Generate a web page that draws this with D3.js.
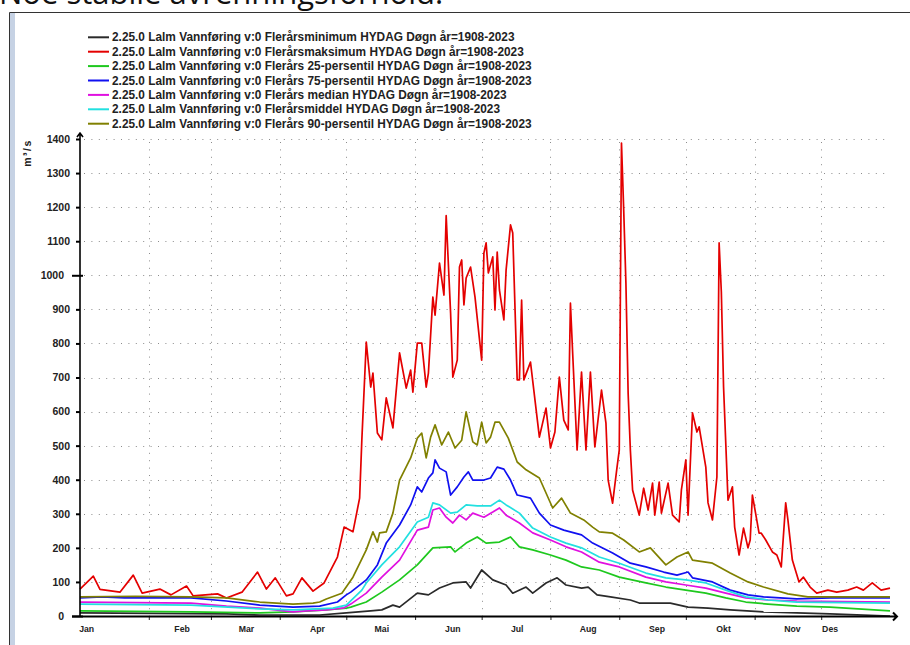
<!DOCTYPE html>
<html>
<head>
<meta charset="utf-8">
<script src="https://cdn.jsdelivr.net/npm/d3@7"></script>
<style>
    body { margin: 0; background: #fff; overflow: hidden; }
    svg text { font-family: "Liberation Sans", Arial, sans-serif; }
    .caption { font-family: "Open Sans", "Noto Sans", sans-serif; }
</style>
</head>
<body>
<div id="chart"></div>
<script>

// day-of-year, m3/s
const minFlow = [[0,9],[66,6],[81,3],[108,3],[120,9],[131,15],[136,18],[141,32],[144,26],[152,67],[157,62],[162,82],[168,97],[174,100],[176,82],[181,135],[186,106],[192,91],[195,67],[201,85],[204,67],[210,97],[215,112],[219,91],[226,82],[229,85],[233,62],[239,56],[248,47],[252,38],[266,38],[274,26],[283,23],[293,18],[308,12],[323,9],[338,6],[365,0]];

const maxFlow = [[0,79],[6,117],[9,78],[18,70],[24,120],[28,67],[36,79],[41,62],[48,88],[51,59],[62,65],[66,53],[73,70],[80,129],[84,79],[88,112],[93,59],[96,65],[100,112],[105,73],[110,97],[116,173],[119,261],[123,247],[126,346],[127,517],[129,804],[131,672],[132,713],[134,537],[136,517],[138,640],[141,552],[144,772],[147,669],[149,722],[150,657],[152,801],[154,801],[156,672],[157,713],[159,936],[160,883],[162,1036],[164,942],[165,1175],[167,889],[168,701],[170,751],[171,1024],[172,1045],[173,913],[174,992],[176,1024],[178,936],[181,751],[182,1065],[183,1095],[184,1007],[186,1054],[187,898],[188,1068],[189,957],[191,869],[192,1015],[194,1148],[195,1124],[197,693],[198,693],[199,927],[200,693],[203,745],[207,525],[210,610],[212,493],[214,540],[216,701],[218,575],[220,546],[221,918],[222,772],[224,487],[226,716],[228,487],[230,716],[232,496],[235,663],[237,566],[238,399],[240,331],[242,437],[243,487],[244,1388],[245,1192],[246,977],[247,654],[248,487],[249,370],[252,296],[254,375],[256,311],[258,390],[259,296],[261,393],[262,302],[265,390],[267,296],[270,276],[271,370],[273,458],[274,296],[276,596],[278,540],[279,555],[282,437],[283,332],[285,282],[287,408],[288,1095],[289,951],[290,672],[292,340],[294,379],[295,261],[297,179],[299,258],[301,200],[302,223],[303,355],[306,243],[307,243],[309,223],[312,188],[314,179],[316,144],[318,332],[319,282],[321,164],[324,100],[326,114],[329,85],[332,67],[337,76],[341,70],[346,76],[350,85],[353,76],[357,97],[361,76],[365,82]];

const p25Flow = [[0,15],[50,12],[81,9],[96,12],[111,18],[120,23],[122,26],[129,41],[136,70],[144,106],[152,150],[159,200],[167,203],[169,188],[174,214],[179,232],[183,214],[189,217],[194,232],[198,203],[204,194],[212,179],[219,164],[226,144],[234,135],[243,114],[255,97],[264,85],[273,76],[282,67],[291,53],[300,41],[310,35],[323,29],[338,26],[365,15]];

const p75Flow = [[0,53],[10,56],[20,53],[50,53],[66,44],[81,32],[96,26],[108,29],[116,41],[120,62],[122,70],[129,106],[134,150],[138,214],[144,267],[149,326],[152,379],[154,364],[157,405],[159,420],[160,458],[162,434],[165,423],[167,355],[170,379],[173,408],[175,423],[177,399],[182,399],[185,405],[188,437],[191,431],[194,399],[197,355],[203,346],[207,302],[212,267],[218,252],[226,238],[231,214],[240,185],[248,155],[255,144],[263,129],[269,120],[274,129],[276,112],[285,100],[293,76],[301,62],[308,56],[323,50],[338,53],[365,53]];

const medianFlow = [[0,41],[50,38],[66,29],[81,23],[96,12],[102,15],[111,18],[119,24],[122,35],[129,67],[136,114],[144,164],[152,252],[157,261],[159,311],[162,317],[165,290],[168,273],[171,296],[174,282],[177,302],[182,290],[186,305],[189,317],[192,296],[198,273],[204,244],[212,223],[219,203],[226,188],[234,158],[243,144],[255,114],[264,100],[273,91],[282,82],[291,67],[300,53],[310,47],[323,44],[365,41]];

const meanFlow = [[0,35],[50,32],[81,21],[96,18],[114,23],[120,32],[127,76],[129,97],[136,150],[144,203],[152,276],[157,290],[159,332],[162,326],[167,302],[170,305],[174,326],[179,323],[185,323],[189,340],[192,326],[198,302],[204,258],[212,232],[219,214],[226,200],[234,173],[243,155],[255,126],[264,112],[273,106],[282,97],[291,76],[300,56],[310,47],[323,41],[365,38]];

const p90Flow = [[0,56],[25,58],[50,56],[66,53],[81,41],[96,35],[105,38],[108,41],[111,50],[118,67],[123,114],[129,194],[132,247],[134,217],[135,244],[138,247],[141,302],[144,399],[149,464],[152,522],[154,537],[156,464],[158,525],[160,561],[163,502],[166,540],[169,493],[172,516],[174,599],[177,511],[179,502],[181,569],[183,508],[185,525],[187,569],[189,569],[193,522],[197,452],[201,429],[207,405],[213,317],[217,346],[221,302],[227,282],[231,261],[234,247],[240,243],[245,223],[252,188],[257,200],[264,150],[269,173],[274,188],[276,164],[285,155],[293,126],[301,100],[308,85],[319,65],[328,56],[365,56]];

const legendLabels = [
    "2.25.0 Lalm Vannføring v:0 Flerårsminimum HYDAG Døgn år=1908-2023",
    "2.25.0 Lalm Vannføring v:0 Flerårsmaksimum HYDAG Døgn år=1908-2023",
    "2.25.0 Lalm Vannføring v:0 Flerårs 25-persentil HYDAG Døgn år=1908-2023",
    "2.25.0 Lalm Vannføring v:0 Flerårs 75-persentil HYDAG Døgn år=1908-2023",
    "2.25.0 Lalm Vannføring v:0 Flerårs median HYDAG Døgn år=1908-2023",
    "2.25.0 Lalm Vannføring v:0 Flerårsmiddel HYDAG Døgn år=1908-2023",
    "2.25.0 Lalm Vannføring v:0 Flerårs 90-persentil HYDAG Døgn år=1908-2023"
];

const monthNames = ["Jan", "Feb", "Mar", "Apr", "Mai", "Jun", "Jul", "Aug", "Sep", "Okt", "Nov", "Des"];
const monthStarts = [0, 31, 59, 90, 120, 151, 181, 212, 243, 273, 304, 334];
const monthLabelDays = [3, 46, 75, 107, 136, 168, 197, 229, 260, 290, 321, 338];
const yTicks = d3.range(0, 1401, 100);

const captionText = "Noe stabile avrenningsforhold.";
const unitLabel = "m³/s";

var Chart = (() => {

    let svg = {
            width: 910,
            height: 645,
            margin: {
                top: 139,
                right: 20,
                bottom: 29,
                left: 80
            }
        },
        series,
        xScale, yScale,
        xAxis, yAxis;

    // drawing order = legend order
    const colors = ["#2a2a2a", "#e40000", "#1ec81e", "#1010f0", "#e010e0", "#22e0e0", "#808000"];

    function init() {
        series = [minFlow, maxFlow, p25Flow, p75Flow, medianFlow, meanFlow, p90Flow];
    }

    function scaleData() {

        xScale = d3.scaleLinear()
            .domain([0, 365])
            .range([svg.margin.left, svg.width - svg.margin.right]);

        yScale = d3.scaleLinear()
            .domain([0, 1400])
            .range([svg.height - svg.margin.bottom, svg.margin.top]);
    }

    function axisData() {

        xAxis = d3.axisBottom(xScale)
            .tickValues(monthStarts.slice(1))
            .tickSize(4)
            .tickFormat("");

        yAxis = d3.axisLeft(yScale)
            .tickValues(yTicks)
            .tickSize(4)
            .tickPadding(6)
            .tickFormat(d3.format("d"));
    }

    function plotData() {

        const chart = d3.select("#chart")
            .append("svg")
            .attr("width", svg.width)
            .attr("height", svg.height);

        const x0 = xScale(0), x1 = xScale(365),
            y0 = yScale(0), y1 = yScale(1400);

        // page caption, cut by the top edge like in the screenshot
        chart.append("text")
            .attr("class", "caption")
            .attr("x", -1)
            .attr("y", 4)
            .attr("font-size", 31)
            .attr("fill", "#111")
            .text(captionText);

        // window frame
        chart.append("rect")
            .attr("x", 10).attr("y", 13)
            .attr("width", 5).attr("height", svg.height)
            .attr("fill", "#c6d2e4");
        chart.append("path")
            .attr("d", `M9.5,${svg.height} V12.5 H${svg.width}`)
            .attr("fill", "none")
            .attr("stroke", "#333")
            .attr("stroke-width", 1);

        // dotted grid
        const grid = chart.append("g")
            .attr("class", "grid")
            .attr("stroke", "#8c8c8c")
            .attr("stroke-width", 1)
            .attr("stroke-dasharray", "1,6.4");

        grid.selectAll("line.h")
            .data(yTicks.slice(1))
            .join("line")
            .attr("class", "h")
            .attr("x1", x0 + 4).attr("x2", x1)
            .attr("y1", d => Math.round(yScale(d)) + 0.5)
            .attr("y2", d => Math.round(yScale(d)) + 0.5);

        grid.selectAll("line.v")
            .data(monthStarts.slice(1))
            .join("line")
            .attr("class", "v")
            .attr("x1", d => Math.round(xScale(d)) + 0.5)
            .attr("x2", d => Math.round(xScale(d)) + 0.5)
            .attr("y1", y1 + 3).attr("y2", y0);

        // series
        const line = d3.line()
            .x(d => xScale(d[0]))
            .y(d => yScale(d[1]));

        chart.append("g")
            .attr("class", "marks")
            .selectAll("path.series")
            .data(series)
            .join("path")
            .attr("class", "series")
            .attr("fill", "none")
            .attr("stroke", (d, i) => colors[i])
            .attr("stroke-width", 1.7)
            .attr("stroke-linejoin", "round")
            .attr("d", line);

        // y axis
        const gy = chart.append("g")
            .attr("class", "axis y")
            .attr("transform", `translate(${x0}, 0)`)
            .call(yAxis);

        gy.select(".domain").remove();
        gy.selectAll(".tick line")
            .attr("stroke", "#000")
            .attr("stroke-width", 2);
        gy.selectAll(".tick text")
            .attr("font-size", 10.5)
            .attr("font-weight", "bold")
            .attr("fill", "#222");
        gy.selectAll(".tick")
            .filter(d => d % 1000 === 0)
            .call(t => t.select("line").attr("x1", 3).attr("x2", -8))
            .call(t => t.select("text").attr("x", -16));

        chart.append("path")
            .attr("d", `M${x0},${y0} V${y1 - 6} M${x0 - 3},${y1 - 2} L${x0},${y1 - 6} L${x0 + 3},${y1 - 2}`)
            .attr("fill", "none")
            .attr("stroke", "#000")
            .attr("stroke-width", 1.6);

        // x axis
        const gx = chart.append("g")
            .attr("class", "axis x")
            .attr("transform", `translate(0, ${y0})`)
            .call(xAxis);

        gx.select(".domain").remove();
        gx.selectAll(".tick line")
            .attr("stroke", "#222")
            .attr("stroke-width", 1);

        chart.append("path")
            .attr("d", `M${x0 - 8},${y0 + 0.5} H${x1 + 7} M${x1 + 3},${y0 - 3.5} L${x1 + 7},${y0 + 0.5} L${x1 + 3},${y0 + 4.5}`)
            .attr("fill", "none")
            .attr("stroke", "#000")
            .attr("stroke-width", 2);

        chart.append("g")
            .attr("class", "month-labels")
            .selectAll("text")
            .data(monthNames)
            .join("text")
            .attr("x", (d, i) => xScale(monthLabelDays[i]))
            .attr("y", y0 + 16)
            .attr("text-anchor", "middle")
            .attr("font-size", 8.7)
            .attr("font-weight", "bold")
            .attr("fill", "#222")
            .text(d => d);

        // unit label
        chart.append("text")
            .attr("transform", "translate(31, 153) rotate(-90)")
            .attr("text-anchor", "middle")
            .attr("font-size", 10.5)
            .attr("font-weight", "bold")
            .attr("letter-spacing", 1.5)
            .attr("fill", "#222")
            .text(unitLabel);

        // legend
        const legend = chart.append("g")
            .attr("class", "legend")
            .selectAll("g")
            .data(legendLabels)
            .join("g")
            .attr("transform", (d, i) => `translate(88, ${37.3 + i * 14.4})`);

        legend.append("line")
            .attr("x1", 0).attr("x2", 21)
            .attr("stroke", (d, i) => colors[i])
            .attr("stroke-width", 2);

        legend.append("text")
            .attr("x", 24)
            .attr("dy", "0.35em")
            .attr("font-size", 11.85)
            .attr("font-weight", "bold")
            .attr("fill", "#222")
            .text(d => d);
    }

    return {
        svg,
        init,
        scaleData,
        axisData,
        plotData
    }

})();

Chart.init();
Chart.scaleData();
Chart.axisData();
Chart.plotData();

</script>
</body>
</html>
